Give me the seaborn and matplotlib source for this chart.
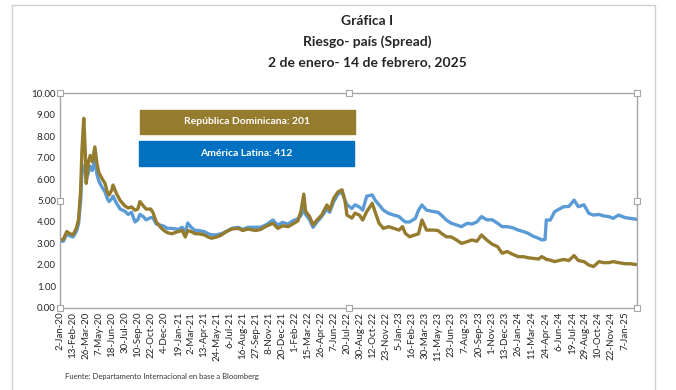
import pandas as pd
import matplotlib.pyplot as plt
import seaborn as sns
from matplotlib.patches import Rectangle

# ---- data (spread in puntos porcentuales) ----
fechas = [
    "2020-01-02", "2020-01-13", "2020-01-24", "2020-02-03", "2020-02-13",
    "2020-02-24", "2020-03-02", "2020-03-09", "2020-03-13", "2020-03-19",
    "2020-03-23", "2020-03-27", "2020-04-03", "2020-04-09", "2020-04-16",
    "2020-04-24", "2020-05-01", "2020-05-07", "2020-05-18", "2020-05-27",
    "2020-06-03", "2020-06-09", "2020-06-18", "2020-06-22", "2020-07-02",
    "2020-07-15", "2020-07-30", "2020-08-10", "2020-08-21", "2020-09-01",
    "2020-09-10", "2020-09-17", "2020-09-28", "2020-10-07", "2020-10-22",
    "2020-10-29", "2020-11-09", "2020-11-23", "2020-12-04", "2020-12-15",
    "2020-12-29", "2021-01-19", "2021-02-01", "2021-02-11", "2021-02-19",
    "2021-03-02", "2021-03-15", "2021-03-26", "2021-04-13", "2021-04-26",
    "2021-05-07", "2021-05-24", "2021-06-07", "2021-06-24", "2021-07-12",
    "2021-08-02", "2021-08-16", "2021-09-02", "2021-09-27", "2021-10-13",
    "2021-10-29", "2021-11-22", "2021-12-08", "2021-12-23", "2022-01-10",
    "2022-01-25", "2022-02-11", "2022-02-21", "2022-03-02", "2022-03-08",
    "2022-03-21", "2022-04-01", "2022-04-14", "2022-04-29", "2022-05-16",
    "2022-05-25", "2022-06-07", "2022-06-21", "2022-07-04", "2022-07-14",
    "2022-07-20", "2022-08-05", "2022-08-15", "2022-08-29", "2022-09-09",
    "2022-09-22", "2022-10-10", "2022-10-19", "2022-11-01", "2022-11-15",
    "2022-12-02", "2022-12-19", "2023-01-05", "2023-01-16", "2023-01-25",
    "2023-02-08", "2023-02-27", "2023-03-09", "2023-03-20", "2023-04-04",
    "2023-04-27", "2023-05-11", "2023-05-22", "2023-06-07", "2023-06-23",
    "2023-07-10", "2023-07-26", "2023-08-14", "2023-08-29", "2023-09-14",
    "2023-09-29", "2023-10-16", "2023-11-03", "2023-11-20", "2023-12-05",
    "2023-12-21", "2024-01-08", "2024-01-26", "2024-02-12", "2024-02-27",
    "2024-03-15", "2024-04-01", "2024-04-11", "2024-04-22", "2024-04-26",
    "2024-05-09", "2024-05-23", "2024-06-07", "2024-06-21", "2024-07-08",
    "2024-07-25", "2024-08-08", "2024-08-26", "2024-09-11", "2024-09-26",
    "2024-10-14", "2024-10-29", "2024-11-14", "2024-11-29", "2024-12-16",
    "2025-01-07", "2025-01-22", "2025-02-14",
]

rep_dominicana = [
    3.15, 3.20, 3.55, 3.45, 3.40, 3.70, 4.10, 5.50, 7.30, 8.83,
    7.60, 5.80, 6.80, 7.10, 6.80, 7.50, 6.70, 6.30, 6.00, 5.80,
    5.40, 5.25, 5.50, 5.72, 5.35, 5.00, 4.75, 4.65, 4.70, 4.55,
    4.60, 4.95, 4.75, 4.60, 4.60, 4.45, 4.00, 3.75, 3.60, 3.50,
    3.45, 3.55, 3.60, 3.30, 3.60, 3.55, 3.45, 3.45, 3.40, 3.30,
    3.24, 3.30, 3.38, 3.55, 3.67, 3.70, 3.60, 3.67, 3.60, 3.65,
    3.78, 3.94, 3.70, 3.82, 3.78, 3.90, 4.05, 4.50, 5.30, 4.50,
    4.25, 3.86, 4.09, 4.32, 4.79, 4.55, 5.10, 5.40, 5.50, 4.95,
    4.32, 4.18, 4.41, 4.32, 4.09, 4.48, 4.87, 4.48, 3.94, 3.70,
    3.78, 3.70, 3.62, 3.78, 3.47, 3.31, 3.40, 3.45, 4.09, 3.62,
    3.62, 3.60, 3.47, 3.31, 3.30, 3.16, 3.00, 3.08, 3.16, 3.10,
    3.39, 3.16, 2.96, 2.85, 2.54, 2.62, 2.49, 2.38, 2.38, 2.33,
    2.30, 2.27, 2.38, 2.30, 2.25, 2.22, 2.15, 2.20, 2.25, 2.20,
    2.43, 2.20, 2.15, 1.99, 1.92, 2.15, 2.10, 2.10, 2.15, 2.10,
    2.05, 2.05, 2.01,
]

america_latina = [
    3.10, 3.10, 3.45, 3.35, 3.30, 3.55, 3.90, 5.00, 6.30, 6.60,
    6.40, 6.00, 6.30, 6.60, 6.40, 6.90, 6.20, 5.90, 5.60, 5.40,
    5.10, 4.95, 5.10, 5.20, 4.90, 4.60, 4.50, 4.35, 4.45, 4.00,
    4.10, 4.35, 4.25, 4.10, 4.20, 4.20, 3.90, 3.85, 3.80, 3.70,
    3.70, 3.65, 3.75, 3.50, 3.95, 3.75, 3.60, 3.60, 3.55, 3.45,
    3.40, 3.40, 3.45, 3.55, 3.70, 3.75, 3.65, 3.75, 3.75, 3.75,
    3.85, 4.09, 3.85, 3.98, 3.90, 4.05, 4.15, 4.30, 4.60, 4.35,
    4.10, 3.75, 4.00, 4.25, 4.60, 4.45, 4.95, 5.30, 5.40, 5.00,
    4.80, 4.63, 4.80, 4.70, 4.55, 5.20, 5.26, 5.02, 4.80, 4.55,
    4.40, 4.32, 4.25, 4.10, 4.00, 4.00, 4.17, 4.55, 4.79, 4.55,
    4.48, 4.45, 4.32, 4.09, 3.94, 3.86, 3.78, 3.94, 3.90, 4.00,
    4.25, 4.10, 4.10, 3.94, 3.78, 3.78, 3.73, 3.62, 3.55, 3.47,
    3.33, 3.24, 3.16, 3.18, 4.09, 4.09, 4.48, 4.60, 4.71, 4.72,
    5.02, 4.71, 4.80, 4.40, 4.32, 4.35, 4.28, 4.25, 4.17, 4.32,
    4.20, 4.17, 4.12,
]

etiquetas_x = [
    "2-Jan-20", "13-Feb-20", "26-Mar-20", "7-May-20", "18-Jun-20", "30-Jul-20",
    "10-Sep-20", "22-Oct-20", "4-Dec-20", "19-Jan-21", "2-Mar-21", "13-Apr-21",
    "24-May-21", "6-Jul-21", "16-Aug-21", "27-Sep-21", "8-Nov-21", "20-Dec-21",
    "1-Feb-22", "15-Mar-22", "26-Apr-22", "7-Jun-22", "20-Jul-22", "30-Aug-22",
    "12-Oct-22", "23-Nov-22", "5-Jan-23", "16-Feb-23", "30-Mar-23", "11-May-23",
    "23-Jun-23", "7-Aug-23", "20-Sep-23", "1-Nov-23", "13-Dec-23", "26-Jan-24",
    "11-Mar-24", "24-Apr-24", "6-Jun-24", "19-Jul-24", "29-Aug-24", "10-Oct-24",
    "22-Nov-24", "7-Jan-25",
]

y_ticks = [0, 1, 2, 3, 4, 5, 6, 7, 8, 9, 10]

OLIVA = "#957B2D"
AZUL_LINEA = "#5B9BD5"
AZUL_CAJA = "#0070C0"
GRIS = "#A6A6A6"

sns.set_theme(style="white")
plt.rcParams["font.family"] = ["Lato", "DejaVu Sans"]

df = pd.DataFrame({
    "fecha": pd.to_datetime(fechas * 2),
    "spread": america_latina + rep_dominicana,
    "serie": ["América Latina"] * len(fechas) + ["República Dominicana"] * len(fechas),
})

fig = plt.figure(figsize=(6.76, 3.90), dpi=100)
ax = fig.add_axes([60 / 676, 1 - 307.7 / 390, 577 / 676, 214.4 / 390])

sns.lineplot(data=df, x="fecha", y="spread", hue="serie",
             hue_order=["América Latina", "República Dominicana"],
             palette=[AZUL_LINEA, OLIVA], linewidth=2.4, legend=False, ax=ax)

ax.set_xlim(pd.Timestamp(fechas[0]), pd.Timestamp(fechas[-1]))
ax.set_ylim(0, 10)
ax.set_yticks(y_ticks)
ax.set_yticklabels([f"{v:.2f}" for v in y_ticks], fontsize=7, color="#262626")

tick_fechas = pd.to_datetime(etiquetas_x, format="%d-%b-%y")
ax.set_xticks(tick_fechas)
ax.set_xticklabels(etiquetas_x, rotation=90, fontsize=7, color="#262626")
ax.tick_params(axis="both", length=0, pad=3)
ax.set_xlabel("")
ax.set_ylabel("")

for s in ax.spines.values():
    s.set_color(GRIS)
    s.set_linewidth(1)

# asas de seleccion del area de trazado (como en la captura de Excel)
for hx, hy in [(0, 0), (0.5, 0), (1, 0), (1, 0.5), (1, 1), (0.5, 1), (0, 1), (0, 0.5)]:
    ax.plot(hx, hy, marker="s", markersize=4.5, markerfacecolor="white",
            markeredgecolor=GRIS, markeredgewidth=0.8, transform=ax.transAxes,
            clip_on=False, zorder=10)

# cajas tipo leyenda
fig.patches.append(Rectangle((140 / 676, 1 - 134 / 390), 215 / 676, 24 / 390,
                             transform=fig.transFigure, color=OLIVA, zorder=5))
fig.patches.append(Rectangle((139 / 676, 1 - 166 / 390), 215 / 676, 25 / 390,
                             transform=fig.transFigure, color=AZUL_CAJA, zorder=5))
fig.text(247 / 676, 1 - 122 / 390, "República Dominicana: 201", color="white",
         fontsize=7.5, fontweight="bold", ha="center", va="center", zorder=6)
fig.text(246 / 676, 1 - 153.5 / 390, "América Latina: 412", color="white",
         fontsize=7.5, fontweight="bold", ha="center", va="center", zorder=6)

# titulo
cx = 367 / 676
fig.text(cx, 1 - 21 / 390, "Gráfica I", fontsize=10, fontweight="bold",
         ha="center", va="center")
fig.text(cx, 1 - 42 / 390, "Riesgo- país (Spread)", fontsize=10,
         fontweight="bold", ha="center", va="center")
fig.text(cx, 1 - 62 / 390, "2 de enero- 14 de febrero, 2025", fontsize=10,
         fontweight="bold", ha="center", va="center")

fig.text(65 / 676, 1 - 377 / 390,
         "Fuente: Departamento Internacional en base a Bloomberg",
         fontsize=5.5, color="#333333", ha="left", va="center")

# borde del area del grafico
fig.patches.append(Rectangle((12 / 676, -0.05), 643 / 676, 1 - 5 / 390 + 0.05,
                             transform=fig.transFigure, fill=False,
                             edgecolor="#D0D0D0", linewidth=1))

fig.savefig("out.png", dpi=100)
